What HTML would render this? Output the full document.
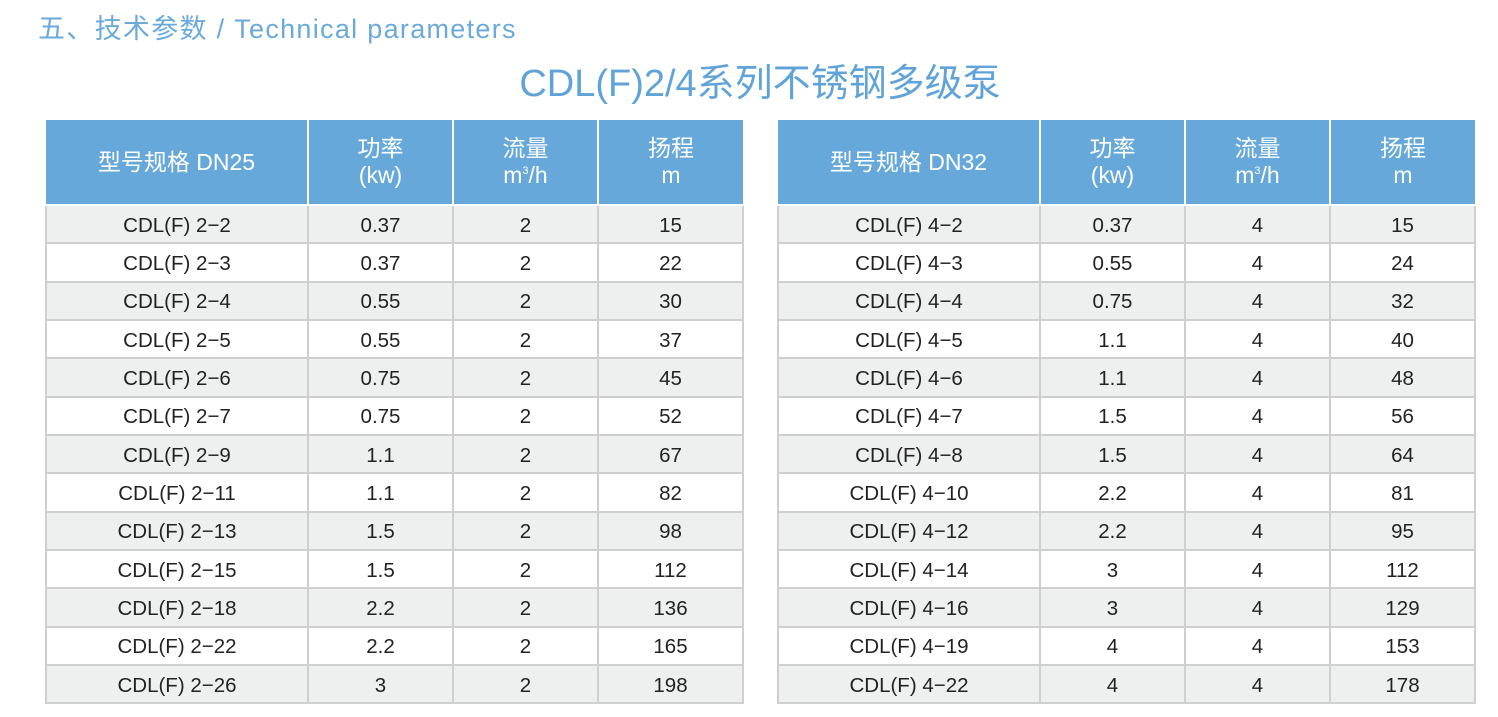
<!DOCTYPE html><html><head><meta charset="utf-8"><style>
body{margin:0;width:1498px;height:717px;background:#fff;position:relative;overflow:hidden;font-family:"Liberation Sans","Noto Sans CJK SC",sans-serif}
.h1{position:absolute;left:38px;top:7px;font-size:27px;color:#6aaadb;letter-spacing:1.3px}
.h2{position:absolute;left:0;width:1520px;text-align:center;top:52px;font-size:38px;color:#5fa3d8}
table{position:absolute;top:120px;border-collapse:collapse;table-layout:fixed;width:697px}
tr{height:38.35px}
td{text-align:center;font-size:20.5px;color:#222;border:2px solid #cfcfcf;padding:3px 0 0 0;line-height:20px}
tr.hd{height:85px}
tr.hd td{background:#66a8da;color:#fff;border:2px solid #fff;border-top:none;font-size:23px;line-height:27px;padding:0}
tr.hd td:first-child{border-left:none}tr.hd td:last-child{border-right:none}
tr:nth-child(even) td{background:#eeefef}
sup{font-size:11px;vertical-align:9px;line-height:0}
</style></head><body>
<div class="h1">五、技术参数 / Technical parameters</div>
<div class="h2">CDL(F)2/4系列不锈钢多级泵</div>
<table style="left:45px"><colgroup><col style="width:262px"><col style="width:145px"><col style="width:145px"><col style="width:145px"></colgroup>
<tr class="hd"><td>型号规格 DN25</td><td>功率<br>(kw)</td><td>流量<br>m<sup>3</sup>/h</td><td>扬程<br>m</td></tr>
<tr><td>CDL(F) 2−2</td><td>0.37</td><td>2</td><td>15</td></tr>
<tr><td>CDL(F) 2−3</td><td>0.37</td><td>2</td><td>22</td></tr>
<tr><td>CDL(F) 2−4</td><td>0.55</td><td>2</td><td>30</td></tr>
<tr><td>CDL(F) 2−5</td><td>0.55</td><td>2</td><td>37</td></tr>
<tr><td>CDL(F) 2−6</td><td>0.75</td><td>2</td><td>45</td></tr>
<tr><td>CDL(F) 2−7</td><td>0.75</td><td>2</td><td>52</td></tr>
<tr><td>CDL(F) 2−9</td><td>1.1</td><td>2</td><td>67</td></tr>
<tr><td>CDL(F) 2−11</td><td>1.1</td><td>2</td><td>82</td></tr>
<tr><td>CDL(F) 2−13</td><td>1.5</td><td>2</td><td>98</td></tr>
<tr><td>CDL(F) 2−15</td><td>1.5</td><td>2</td><td>112</td></tr>
<tr><td>CDL(F) 2−18</td><td>2.2</td><td>2</td><td>136</td></tr>
<tr><td>CDL(F) 2−22</td><td>2.2</td><td>2</td><td>165</td></tr>
<tr><td>CDL(F) 2−26</td><td>3</td><td>2</td><td>198</td></tr>
</table>
<table style="left:777px"><colgroup><col style="width:262px"><col style="width:145px"><col style="width:145px"><col style="width:145px"></colgroup>
<tr class="hd"><td>型号规格 DN32</td><td>功率<br>(kw)</td><td>流量<br>m<sup>3</sup>/h</td><td>扬程<br>m</td></tr>
<tr><td>CDL(F) 4−2</td><td>0.37</td><td>4</td><td>15</td></tr>
<tr><td>CDL(F) 4−3</td><td>0.55</td><td>4</td><td>24</td></tr>
<tr><td>CDL(F) 4−4</td><td>0.75</td><td>4</td><td>32</td></tr>
<tr><td>CDL(F) 4−5</td><td>1.1</td><td>4</td><td>40</td></tr>
<tr><td>CDL(F) 4−6</td><td>1.1</td><td>4</td><td>48</td></tr>
<tr><td>CDL(F) 4−7</td><td>1.5</td><td>4</td><td>56</td></tr>
<tr><td>CDL(F) 4−8</td><td>1.5</td><td>4</td><td>64</td></tr>
<tr><td>CDL(F) 4−10</td><td>2.2</td><td>4</td><td>81</td></tr>
<tr><td>CDL(F) 4−12</td><td>2.2</td><td>4</td><td>95</td></tr>
<tr><td>CDL(F) 4−14</td><td>3</td><td>4</td><td>112</td></tr>
<tr><td>CDL(F) 4−16</td><td>3</td><td>4</td><td>129</td></tr>
<tr><td>CDL(F) 4−19</td><td>4</td><td>4</td><td>153</td></tr>
<tr><td>CDL(F) 4−22</td><td>4</td><td>4</td><td>178</td></tr>
</table>
</body></html>
